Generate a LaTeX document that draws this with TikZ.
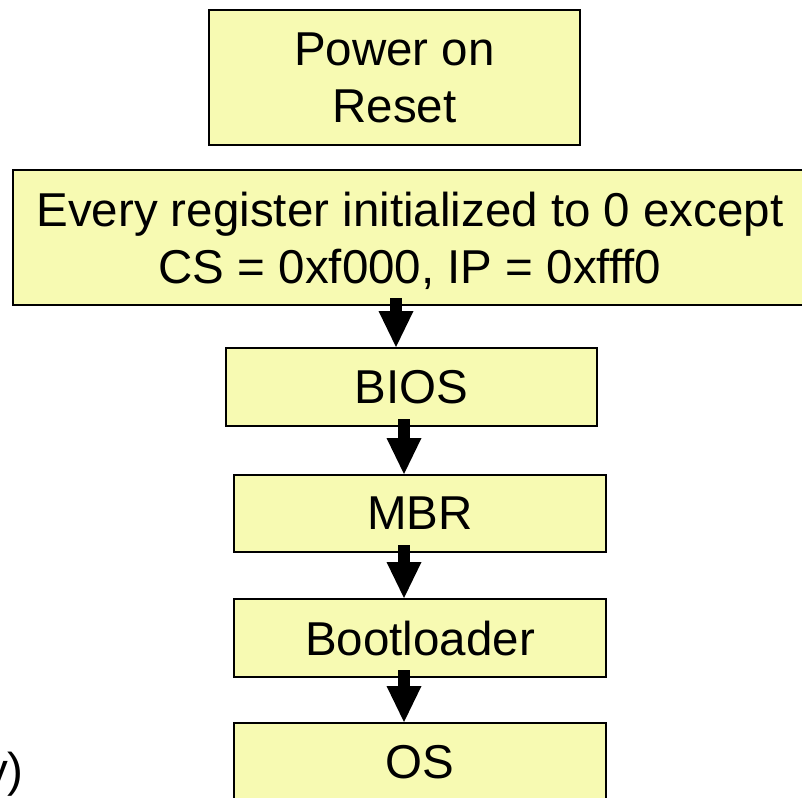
\documentclass[tikz,border=0pt]{standalone}
\usepackage{fontspec}
\setmainfont{Liberation Sans}
\usetikzlibrary{arrows.meta}
\definecolor{boxfill}{RGB}{247,250,178}
\tikzset{
  stage/.style={draw=black, line width=2pt, fill=boxfill, rectangle,
    inner sep=0pt, align=center, text depth=0pt,
    font=\fontsize{47.5}{57}\selectfont},
  flow/.style={line width=12pt, shorten <=-8pt,
    -{Triangle[width=35pt,length=36pt,line width=0pt]}}
}
\begin{document}
\begin{tikzpicture}[x=1pt,y=-1pt]
  \useasboundingbox (0,0) rectangle (802,797);
  \clip (0,0) rectangle (802,797);
  \fill[white] (0,0) rectangle (802,797);

  % boot stages
  \node[stage, minimum width=371pt, minimum height=135pt] (por) at (394.5,77.5) {Power on\\Reset};
  \node[stage, minimum width=794pt, minimum height=135pt] (init) at (410,237.5)
    {Every register initialized to 0 except\\CS = 0xf000, IP = 0xfff0};
  \node[stage, minimum width=371pt, minimum height=78pt] (bios) at (411.5,387) {BIOS};
  \node[stage, minimum width=372pt, minimum height=77pt] (mbr) at (420,513.5) {MBR};
  \node[stage, minimum width=372pt, minimum height=78pt] (boot) at (420,638) {Bootloader};
  \node[stage, minimum width=372pt, minimum height=78pt] (os) at (420,762) {OS};

  % arrow columns
  \coordinate (colA) at (396,0);
  \coordinate (colB) at (404,0);

  \draw[flow] (init.south -| colA) -- (bios.north -| colA);
  \draw[flow] (bios.south -| colB) -- (mbr.north -| colB);
  \draw[flow] (mbr.south -| colB) -- (boot.north -| colB);
  \draw[flow] (boot.south -| colB) -- (os.north -| colB);

  % trailing text at the lower left
  \node[anchor=base east, inner sep=0pt, font=\fontsize{47.5}{57}\selectfont] (tail) at (24,786) {y)};
\end{tikzpicture}
\end{document}
